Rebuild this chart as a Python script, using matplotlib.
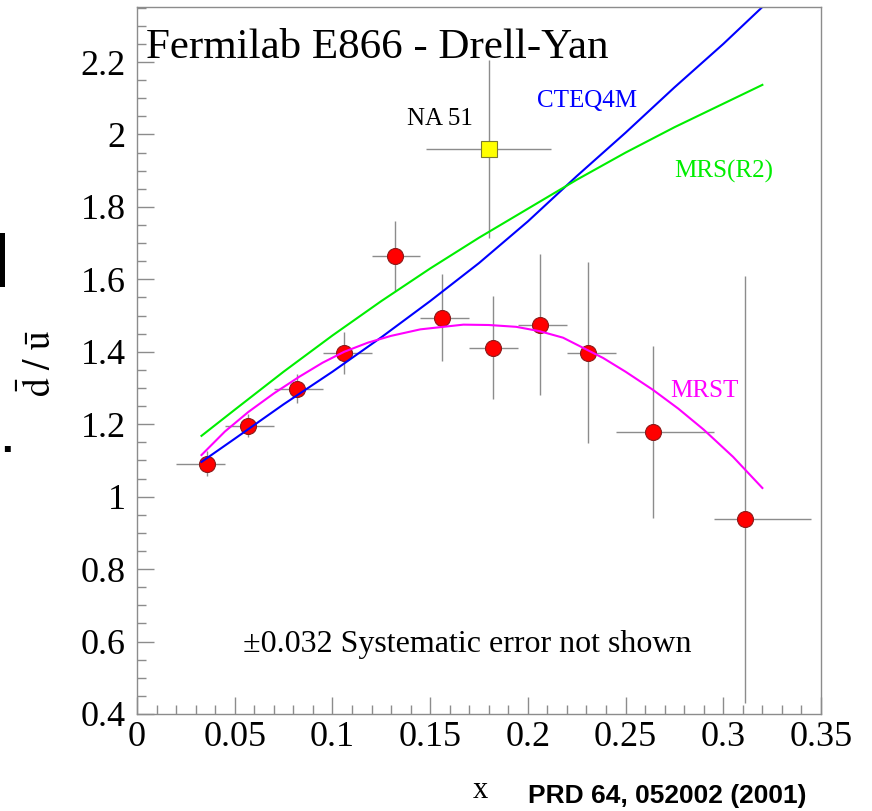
import matplotlib
matplotlib.use("Agg")
import matplotlib.pyplot as plt
from matplotlib.ticker import MultipleLocator
from matplotlib.patches import Rectangle

plt.rcParams['font.family'] = ['Liberation Serif', 'DejaVu Serif']
plt.rcParams['mathtext.fontset'] = 'stix'

# E866 dbar/ubar points
x_e866 = [0.036, 0.057, 0.082, 0.106, 0.132, 0.156, 0.182, 0.206, 0.231, 0.264, 0.311]
y_e866 = [1.091, 1.196, 1.298, 1.397, 1.665, 1.494, 1.411, 1.475, 1.397, 1.179, 0.939]
yerr_lo = [0.034, 0.032, 0.040, 0.057, 0.097, 0.120, 0.142, 0.195, 0.250, 0.238, 0.510]
yerr_hi = [0.034, 0.032, 0.040, 0.057, 0.097, 0.120, 0.142, 0.195, 0.250, 0.238, 0.670]
x_bin_lo = [0.020, 0.045, 0.070, 0.095, 0.120, 0.145, 0.170, 0.195, 0.220, 0.245, 0.295]
x_bin_hi = [0.045, 0.070, 0.095, 0.120, 0.145, 0.170, 0.195, 0.220, 0.245, 0.295, 0.345]

# NA51 point
x_na51 = [0.180]
y_na51 = [1.96]
yerr_na51 = [0.247]
xerr_na51 = [0.032]

# parton distribution curves
x_cteq = [0.033, 0.05, 0.075, 0.10, 0.125, 0.15, 0.175, 0.20, 0.225, 0.25, 0.275, 0.30, 0.32]
y_cteq = [1.096, 1.16, 1.255, 1.345, 1.44, 1.54, 1.645, 1.76, 1.885, 2.005, 2.13, 2.25, 2.352]
x_mrs = [0.033, 0.05, 0.075, 0.10, 0.125, 0.15, 0.175, 0.20, 0.225, 0.25, 0.275, 0.30, 0.32]
y_mrs = [1.168, 1.24, 1.345, 1.445, 1.54, 1.63, 1.715, 1.795, 1.875, 1.95, 2.02, 2.085, 2.137]
x_mrst = [0.033, 0.045, 0.057, 0.07, 0.083, 0.095, 0.106, 0.118, 0.130, 0.145, 0.167, 0.18,
          0.194, 0.206, 0.218, 0.2385, 0.25, 0.264, 0.277, 0.290, 0.305, 0.320]
y_mrst = [1.115, 1.18, 1.234, 1.285, 1.331, 1.37, 1.400, 1.425, 1.444, 1.462, 1.475, 1.474,
          1.469, 1.457, 1.439, 1.383, 1.345, 1.295, 1.243, 1.185, 1.11, 1.024]

fig = plt.figure(figsize=(8.72, 8.11), dpi=100)
ax = fig.add_axes([137/872, 1 - 714/811, 684/872, 707/811])

ax.plot(x_cteq, y_cteq, color='#0000ff', lw=1.5, zorder=2)
ax.plot(x_mrs, y_mrs, color='#00ee00', lw=1.5, zorder=2)
ax.plot(x_mrst, y_mrst, color='#ff00ff', lw=1.5, zorder=2)

xerr = [[x - lo for x, lo in zip(x_e866, x_bin_lo)],
        [hi - x for x, hi in zip(x_e866, x_bin_hi)]]
ax.errorbar(x_e866, y_e866, yerr=[yerr_lo, yerr_hi], xerr=xerr, fmt='o',
            color='#8c8c8c', elinewidth=1.0, capsize=0, ms=11.5,
            mfc='#ff0000', mec='#8b1a1a', mew=0.8, zorder=1)
ax.errorbar(x_na51, y_na51, yerr=yerr_na51, xerr=xerr_na51, fmt='s',
            color='#8c8c8c', elinewidth=1.0, capsize=0, ms=11.5,
            mfc='#ffff00', mec='#7a7a30', mew=0.8, zorder=1)

ax.set_xlim(0, 0.35)
ax.set_ylim(0.4, 2.352)
ax.xaxis.set_minor_locator(MultipleLocator(0.01))
ax.yaxis.set_minor_locator(MultipleLocator(0.05))
ax.set_xticks([0, 0.05, 0.1, 0.15, 0.2, 0.25, 0.3, 0.35])
ax.set_xticklabels(['0', '0.05', '0.1', '0.15', '0.2', '0.25', '0.3', '0.35'])
ax.set_yticks([0.4, 0.6, 0.8, 1.0, 1.2, 1.4, 1.6, 1.8, 2.0, 2.2])
ax.set_yticklabels(['0.4', '0.6', '0.8', '1', '1.2', '1.4', '1.6', '1.8', '2', '2.2'])
ax.tick_params(which='both', direction='in', color='#8c8c8c', width=1.0,
               top=False, right=False, labelsize=26)
ax.tick_params(which='major', length=12)
ax.tick_params(which='minor', length=6.5)
ax.tick_params(axis='y', pad=8)
ax.tick_params(axis='x', pad=5)
for sp in ax.spines.values():
    sp.set_color('#8c8c8c')
    sp.set_linewidth(1.0)

ax.text(0.0046, 2.212, 'Fermilab E866 - Drell-Yan', fontsize=31, va='baseline')
ax.text(0.138, 2.027, 'NA 51', fontsize=18, va='baseline')
ax.text(0.2047, 2.077, 'CTEQ4M', fontsize=18, color='#0000ff', va='baseline')
ax.text(0.2748, 1.881, 'MRS(R2)', fontsize=18, color='#00ee00', va='baseline')
ax.text(0.2728, 1.276, 'MRST', fontsize=18, color='#ff00ff', va='baseline')
ax.text(0.0542, 0.572, '\u00b10.032 Systematic error not shown', fontsize=23, va='baseline')

fig.text(40/872, 1 - 363/811, r'$\bar{\mathrm{d}}\ /\ \bar{\mathrm{u}}$', rotation=90,
         fontsize=27, ha='center', va='center')
fig.text(480/872, 1 - 798/811, 'x', fontsize=22, ha='center', va='baseline')
fig.text(528/872, 1 - 803/811, 'PRD 64, 052002 (2001)', fontsize=19, fontweight='bold',
         family='Liberation Sans', ha='left', va='baseline')

# bits of neighbouring slide content cut at the left edge
fig.patches.append(Rectangle((0, 1 - 287/811), 5/872, 54/811, transform=fig.transFigure,
                             facecolor='black', edgecolor='none'))
fig.text(13/872, 1 - 452/811, '.', fontsize=30, fontweight='bold',
         family='Liberation Sans', ha='right', va='baseline')

fig.savefig('out.png', dpi=100)
